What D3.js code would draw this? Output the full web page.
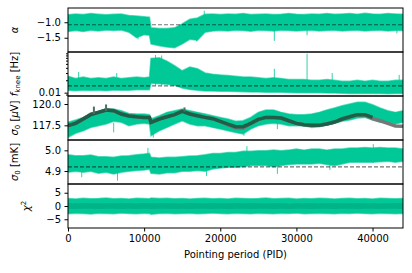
<!DOCTYPE html>
<html>
<head>
<meta charset="utf-8">
<script src="https://cdn.jsdelivr.net/npm/d3@7/dist/d3.min.js"></script>
<style>
  body { margin: 0; background: #fff; }
  svg text { font-family: "DejaVu Sans", sans-serif; }
</style>
</head>
<body>
<div id="chart"></div>
<script>
var pids = [0, 1000, 2000, 3000, 4000, 5000, 6000, 7000, 8000, 9000, 10000, 10700, 10900,
  12000, 13000, 14000, 15000, 16000, 17000, 18000, 19000, 20000, 21000, 22000, 23000,
  24000, 25000, 26000, 27000, 28000, 29000, 30000, 31000, 32000, 33000, 34000, 35000,
  36000, 37000, 38000, 39000, 40000, 41000, 42000, 43000, 44000];

// alpha
var alphaHi = [-0.76,-0.73,-0.75,-0.72,-0.74,-0.76,-0.74,-0.73,-0.78,-0.80,-0.82,-0.84,-1.18,
  -1.20,-1.20,-1.18,-1.05,-0.90,-0.86,-0.74,-0.73,-0.75,-0.73,-0.74,-0.72,-0.75,-0.74,-0.73,
  -0.75,-0.74,-0.72,-0.74,-0.75,-0.73,-0.74,-0.72,-0.74,-0.73,-0.72,-0.74,-0.71,-0.73,-0.74,
  -0.72,-0.73,-0.74];
var alphaLo = [-1.30,-1.27,-1.30,-1.26,-1.28,-1.25,-1.27,-1.25,-1.32,-1.50,-1.40,-1.42,-1.70,
  -1.76,-1.80,-1.82,-1.70,-1.55,-1.58,-1.32,-1.28,-1.27,-1.28,-1.26,-1.27,-1.29,-1.26,-1.27,
  -1.28,-1.26,-1.27,-1.28,-1.27,-1.26,-1.28,-1.27,-1.26,-1.28,-1.27,-1.26,-1.28,-1.27,-1.26,
  -1.28,-1.27,-1.27];
var alphaSpikes = [[9200,-1.55],[16900,-1.62],[17900,-0.63],[27100,-1.60],[31400,-1.42],[43200,-1.36]];
var alphaRef = -1.08;

// f_knee [Hz]
var fkneeHi = [0.025,0.022,0.024,0.022,0.023,0.022,0.024,0.022,0.023,0.024,0.023,0.024,0.068,
  0.070,0.058,0.045,0.034,0.042,0.038,0.030,0.028,0.027,0.026,0.025,0.024,0.024,0.023,0.022,
  0.023,0.022,0.021,0.021,0.021,0.020,0.020,0.021,0.020,0.019,0.019,0.020,0.019,0.020,0.019,
  0.019,0.020,0.020];
var fkneeLo = [0.0115,0.0112,0.0115,0.0113,0.0115,0.0112,0.0116,0.0114,0.0115,0.0118,0.0117,
  0.0118,0.0170,0.0165,0.0160,0.0150,0.0130,0.0120,0.0115,0.0110,0.0110,0.0108,0.0108,0.0106,
  0.0105,0.0104,0.0104,0.0103,0.0102,0.0102,0.0101,0.0100,0.0100,0.0099,0.0099,0.0098,0.0098,
  0.0097,0.0096,0.0096,0.0095,0.0096,0.0095,0.0094,0.0095,0.0095];
var fkneeSpikes = [[1400,0.032],[6400,0.030],[11500,0.082],[12300,0.080],[27100,0.038],
  [31400,0.088],[34700,0.030],[43500,0.027]];
var fkneeRef = 0.0146;

// sigma0 [uV]
var sigUHi = [117.85,118.12,118.43,118.90,119.14,119.41,119.41,119.22,118.90,118.83,118.83,
  118.75,118.24,118.63,119.02,119.22,119.41,119.22,119.02,118.83,118.63,118.43,118.24,117.97,
  118.04,118.43,119.02,119.30,119.30,119.02,118.83,118.75,118.75,118.83,119.02,119.30,119.53,
  119.80,120.00,120.20,120.20,119.92,119.53,119.22,119.02,119.22];
var sigULo = [116.09,116.56,116.87,117.26,117.46,117.65,117.97,117.85,117.46,117.65,117.73,
  117.65,116.28,116.87,117.26,117.65,118.04,117.65,117.46,117.46,117.26,117.06,116.87,116.67,
  116.48,117.06,117.46,117.65,117.73,117.65,117.46,117.46,117.46,117.26,117.34,117.57,117.73,
  117.97,118.12,118.35,118.43,118.12,117.85,117.85,117.65,117.85];
var sigUSpikes = [[6000,116.67],[11200,116.05],[23100,116.28],[27500,117.06]];
var sigUMean = [117.46,117.73,118.24,118.75,119.02,119.30,119.22,118.83,118.59,118.51,118.43,
  118.43,117.85,118.24,118.51,118.75,119.14,118.83,118.63,118.43,118.28,117.97,117.65,117.34,
  117.34,117.73,118.20,118.43,118.43,118.35,118.04,117.73,117.57,117.50,117.50,117.65,117.89,
  118.24,118.51,118.75,118.75,118.43,null,null,null,null];
// narrow peaks of the mean trace: [pid, foot, tip]
var sigUMeanSpikes = [[3400,118.85,119.70],[5000,119.20,119.95],[15300,119.10,119.60]];
var sigURef = [117.46,117.73,118.24,118.80,119.02,119.30,119.22,118.83,118.59,118.51,118.43,
  118.43,117.85,118.24,118.51,118.75,119.20,118.83,118.63,118.43,118.28,117.97,117.55,117.20,
  117.15,117.73,118.20,118.43,118.43,118.35,118.04,117.73,117.57,117.50,117.50,117.65,117.89,
  118.24,118.51,118.75,118.70,118.30,118.04,117.73,117.42,117.38];

// sigma0 [mK]
var sigKHi = [4.979,4.974,4.974,4.977,4.969,4.969,4.966,4.972,4.974,4.979,4.982,4.985,4.966,
  4.963,4.966,4.966,4.969,4.972,4.974,4.979,4.985,4.985,4.990,4.990,4.995,4.995,4.998,4.998,
  5.001,4.998,5.001,5.006,5.001,5.006,5.006,5.001,5.006,5.006,5.011,5.011,5.014,5.011,5.014,
  5.011,5.011,5.006];
var sigKLo = [4.894,4.899,4.894,4.899,4.889,4.894,4.886,4.894,4.899,4.902,4.905,4.908,4.889,
  4.886,4.892,4.892,4.899,4.899,4.902,4.899,4.910,4.915,4.918,4.918,4.921,4.926,4.926,4.926,
  4.921,4.926,4.931,4.934,4.934,4.934,4.937,4.931,4.926,4.934,4.942,4.942,4.942,4.942,4.945,
  4.947,4.942,4.947];
var sigKSpikes = [[1800,4.870],[6500,4.853],[10500,5.012],[18200,4.875],[23500,5.020],
  [27500,4.886],[34400,4.905],[40100,5.030]];
var sigKRef = 4.92;

// chi^2
var chiHi = [2.8,2.6,2.9,2.7,2.8,3.0,2.7,2.8,2.6,2.9,2.8,2.7,3.0,2.8,2.9,2.7,2.8,2.6,2.8,2.9,
  2.7,2.8,2.6,2.9,2.8,2.7,2.8,3.0,2.7,2.8,2.9,2.6,2.8,2.7,2.9,2.8,2.6,2.8,2.9,2.7,2.8,2.6,
  2.9,2.8,2.7,2.8];
var chiLo = [-2.9,-2.7,-2.8,-3.0,-2.7,-2.8,-2.9,-2.6,-2.8,-2.9,-2.7,-2.8,-3.1,-2.8,-2.7,-2.9,
  -2.8,-2.7,-2.9,-2.8,-2.6,-2.8,-2.9,-2.7,-2.8,-2.9,-2.7,-2.8,-2.9,-2.7,-2.8,-2.6,-2.9,-2.8,
  -2.7,-2.8,-2.9,-2.7,-2.8,-2.6,-2.8,-2.9,-2.7,-2.8,-2.9,-2.8];
var chiCoreHi = [1.1,1.0,1.1,1.0,1.0,1.1,1.0,1.1,1.0,1.0,1.1,1.0,1.1,1.0,1.1,1.0,1.0,1.1,1.0,
  1.0,1.1,1.0,1.0,1.1,1.0,1.1,1.0,1.0,1.1,1.0,1.0,1.1,1.0,1.1,1.0,1.0,1.1,1.0,1.0,1.1,1.0,
  1.1,1.0,1.0,1.1,1.0];
var chiCoreLo = [-1.0,-1.1,-1.0,-1.0,-1.1,-1.0,-1.0,-1.1,-1.0,-1.1,-1.0,-1.0,-1.1,-1.0,-1.0,
  -1.1,-1.0,-1.1,-1.0,-1.0,-1.1,-1.0,-1.1,-1.0,-1.0,-1.1,-1.0,-1.0,-1.1,-1.0,-1.1,-1.0,-1.0,
  -1.1,-1.0,-1.0,-1.1,-1.0,-1.0,-1.1,-1.0,-1.0,-1.1,-1.0,-1.0,-1.1];

var xTicks = [0, 10000, 20000, 30000, 40000];

var green = "#00c896", darkLine = "#1f5e47", grayLine = "#777777";

var margin = {top: 8, right: 9, bottom: 45, left: 68},
    width = 412 - margin.left - margin.right,
    panelH = 44;

var svg = d3.select("#chart").append("svg")
    .attr("width", 412)
    .attr("height", 273)
  .append("g")
    .attr("transform", "translate(" + margin.left + "," + margin.top + ")");

var x = d3.scaleLinear().domain([0, 44000]).range([0, width]);

var panels = [
  {y: d3.scaleLinear().domain([-1.96, -0.54]), hi: alphaHi, lo: alphaLo, spikes: alphaSpikes,
   spikeBase: -1.0, ref: alphaRef, ticks: [-1.0, -1.5], fmt: d3.format(".1f")},
  {y: d3.scaleLog().domain([0.0083, 0.097]), hi: fkneeHi, lo: fkneeLo, spikes: fkneeSpikes,
   spikeBase: 0.015, ref: fkneeRef, ticks: [0.01], fmt: d3.format(".2f"),
   minor: [0.009, 0.02, 0.03, 0.04, 0.05, 0.06, 0.07, 0.08, 0.09]},
  {y: d3.scaleLinear().domain([115.78, 120.94]), hi: sigUHi, lo: sigULo, spikes: sigUSpikes,
   spikeBase: 117.8, ticks: [117.5, 120.0], fmt: d3.format(".1f")},
  {y: d3.scaleLinear().domain([4.837, 5.05]), hi: sigKHi, lo: sigKLo, spikes: sigKSpikes,
   spikeBase: 4.94, ref: sigKRef, ticks: [4.9, 5.0], fmt: d3.format(".1f")},
  {y: d3.scaleLinear().domain([-8.3, 8.3]), hi: chiHi, lo: chiLo,
   ticks: [-5, 0, 5], fmt: d3.format("d")}
];

panels.forEach(function(p, i) {
  p.y.range([panelH, 0]);
  var g = svg.append("g").attr("transform", "translate(0," + (i * panelH) + ")");

  g.append("clipPath").attr("id", "clip" + i)
    .append("rect").attr("width", width).attr("height", panelH);
  var plot = g.append("g").attr("clip-path", "url(#clip" + i + ")");

  var area = d3.area()
    .x(function(d, j) { return x(pids[j]); })
    .y0(function(d, j) { return p.y(p.lo[j]); })
    .y1(function(d, j) { return p.y(p.hi[j]); });

  // spikes under the band
  if (p.spikes) {
    plot.selectAll(".spike")
      .data(p.spikes)
      .enter()
      .append("line")
        .attr("x1", function(d) { return x(d[0]); })
        .attr("x2", function(d) { return x(d[0]); })
        .attr("y1", function(d) { return p.y(d[1]); })
        .attr("y2", p.y(p.spikeBase))
        .style("stroke", green)
        .style("stroke-width", 1)
        .style("opacity", 0.8);
  }

  plot.append("path")
    .datum(pids)
    .attr("d", area)
    .style("fill", green)
    .style("stroke", green)
    .style("stroke-opacity", 0.6)
    .style("stroke-width", 1.5);

  if (i == 4) {
    var core = d3.area()
      .x(function(d, j) { return x(pids[j]); })
      .y0(function(d, j) { return p.y(chiCoreLo[j]); })
      .y1(function(d, j) { return p.y(chiCoreHi[j]); });
    plot.append("path").datum(pids).attr("d", core).style("fill", "#00b487");
  }

  if (i == 2) {
    var lineRef = d3.line()
      .x(function(d, j) { return x(pids[j]); })
      .y(function(d) { return p.y(d); });
    plot.append("path").datum(sigURef).attr("d", lineRef)
      .style("fill", "none").style("stroke", grayLine).style("stroke-width", 3.5);
    var lineMean = d3.line()
      .defined(function(d) { return d != null; })
      .x(function(d, j) { return x(pids[j]); })
      .y(function(d) { return p.y(d); });
    plot.append("path").datum(sigUMean).attr("d", lineMean)
      .style("fill", "none").style("stroke", darkLine).style("stroke-width", 3.5);
    plot.selectAll(".mspike")
      .data(sigUMeanSpikes)
      .enter()
      .append("line")
        .attr("x1", function(d) { return x(d[0]); })
        .attr("x2", function(d) { return x(d[0]); })
        .attr("y1", function(d) { return p.y(d[2]); })
        .attr("y2", function(d) { return p.y(d[1]); })
        .style("stroke", "#4f6f62")
        .style("stroke-width", 2);
  }

  if (p.ref != null) {
    plot.append("line")
      .attr("x1", 0).attr("x2", width)
      .attr("y1", p.y(p.ref)).attr("y2", p.y(p.ref))
      .style("stroke", "#000")
      .style("stroke-opacity", 0.55)
      .style("stroke-width", 1.2)
      .style("stroke-dasharray", "4,2");
  }

  // y axis
  var yAxis = g.append("g")
    .call(d3.axisLeft(p.y).tickValues(p.ticks).tickFormat(p.fmt).tickSize(3.5).tickPadding(3.5));
  yAxis.select(".domain").remove();
  yAxis.selectAll("text").style("font-size", "10px").style("fill", "#000");
  if (p.minor) {
    var minorAxis = g.append("g")
      .call(d3.axisLeft(p.y).tickValues(p.minor).tickFormat("").tickSize(2));
    minorAxis.select(".domain").remove();
  }

  g.append("rect")
    .attr("width", width)
    .attr("height", panelH)
    .style("fill", "none")
    .style("stroke", "#000")
    .style("stroke-width", 1);
});

// x axis
var xAxis = svg.append("g")
  .attr("transform", "translate(0," + (5 * panelH) + ")")
  .call(d3.axisBottom(x).tickValues(xTicks).tickFormat(d3.format("d")).tickSize(3.5).tickPadding(3.5));
xAxis.select(".domain").remove();
xAxis.selectAll("text").style("font-size", "10px").style("fill", "#000");

svg.append("text")
  .attr("x", width / 2)
  .attr("y", 5 * panelH + 30)
  .attr("text-anchor", "middle")
  .style("font-size", "10px")
  .text("Pointing period (PID)");

// y labels
function ylabel(i, xpos, build) {
  var t = svg.append("text")
    .attr("transform", "translate(" + xpos + "," + (i * panelH + panelH / 2) + ") rotate(-90)")
    .attr("text-anchor", "middle")
    .style("font-size", "10px");
  build(t);
}
ylabel(0, -50, function(t) {
  t.append("tspan").style("font-style", "italic").text("α");
});
ylabel(1, -50, function(t) {
  t.append("tspan").style("font-style", "italic").text("f");
  t.append("tspan").attr("dy", 2).style("font-size", "7px").text("knee");
  t.append("tspan").attr("dy", -2).text(" [Hz]");
});
ylabel(2, -50, function(t) {
  t.append("tspan").style("font-style", "italic").text("σ");
  t.append("tspan").attr("dy", 2).style("font-size", "7px").text("0");
  t.append("tspan").attr("dy", -2).text(" [");
  t.append("tspan").style("font-style", "italic").text("μ");
  t.append("tspan").text("V]");
});
ylabel(3, -50, function(t) {
  t.append("tspan").style("font-style", "italic").text("σ");
  t.append("tspan").attr("dy", 2).style("font-size", "7px").text("0");
  t.append("tspan").attr("dy", -2).text(" [mK]");
});
ylabel(4, -38, function(t) {
  t.append("tspan").style("font-style", "italic").text("χ");
  t.append("tspan").attr("dy", -4).style("font-size", "7px").text("2");
});
</script>
</body>
</html>
